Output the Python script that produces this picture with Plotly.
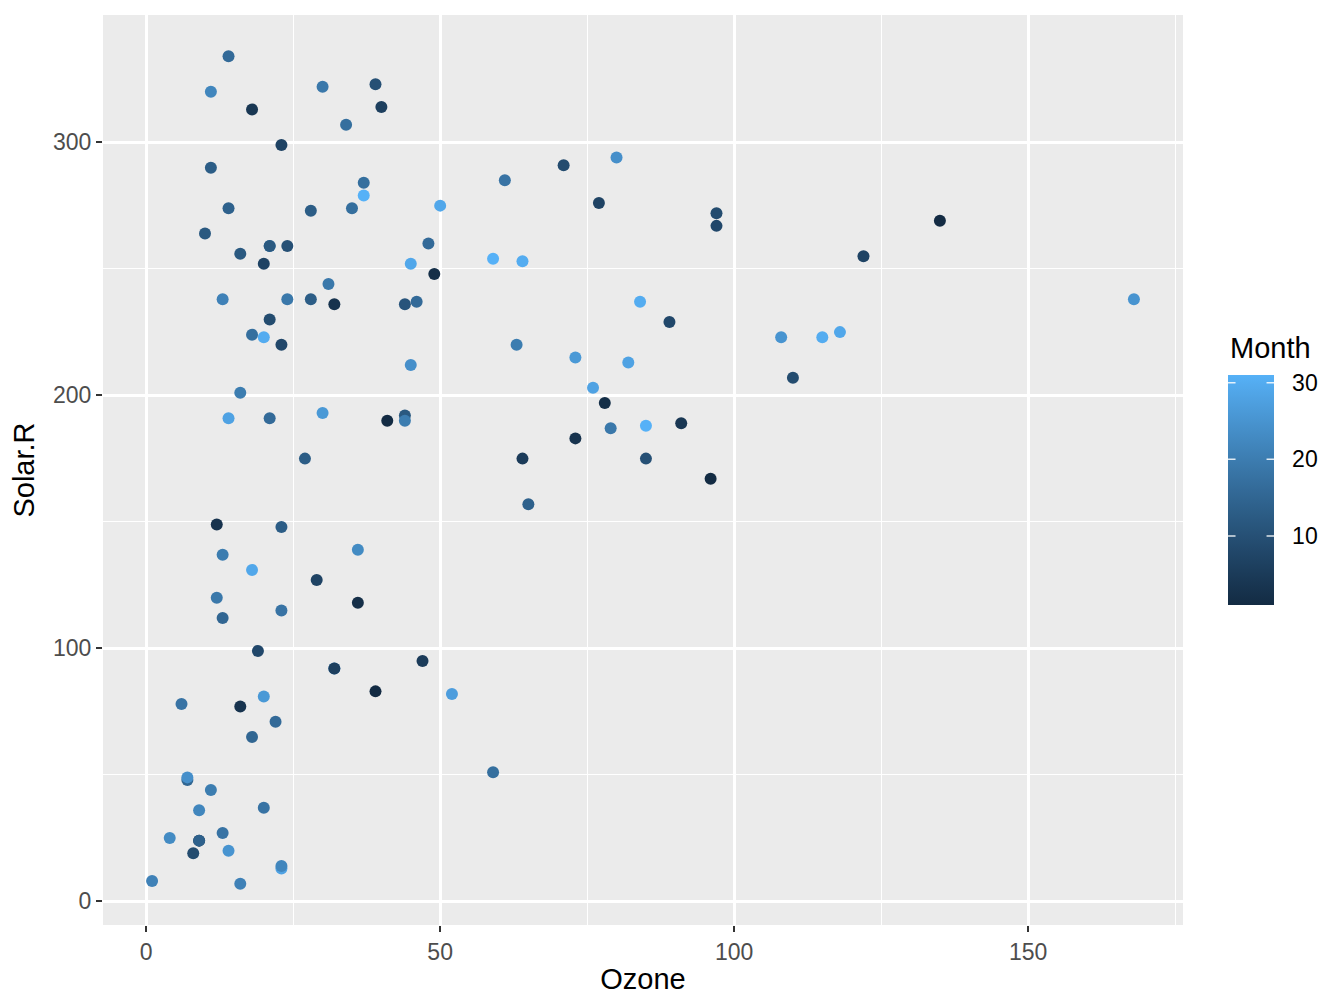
import numpy as np
import plotly.graph_objects as go

# airquality complete cases (Ozone, Solar.R, Day)
ozone = [41, 36, 12, 18, 23, 19, 8, 16, 11, 14, 18, 14, 34, 6, 30, 11, 1, 11, 4, 32, 23, 45, 115, 37,
         29, 71, 39, 23, 21, 37, 20, 12, 13,
         135, 49, 32, 64, 40, 77, 97, 97, 85, 10, 27, 7, 48, 35, 61, 79, 63, 16, 80, 108, 20, 52, 82, 50, 64, 59,
         39, 9, 16, 122, 89, 110, 44, 28, 65, 22, 59, 23, 31, 44, 21, 9, 45, 168, 73, 76, 118, 84, 85,
         96, 78, 73, 91, 47, 32, 20, 23, 21, 24, 44, 21, 28, 9, 13, 46, 18, 13, 24, 16, 13, 23, 36, 7, 14, 30, 14, 18, 20]
solar = [190, 118, 149, 313, 299, 99, 19, 256, 290, 274, 65, 334, 307, 78, 322, 44, 8, 320, 25, 92, 13, 252, 223, 279,
         127, 291, 323, 148, 191, 284, 37, 120, 137,
         269, 248, 236, 175, 314, 276, 267, 272, 175, 264, 175, 48, 260, 274, 285, 187, 220, 7, 294, 223, 81, 82, 213, 275, 253, 254,
         83, 24, 77, 255, 229, 207, 192, 273, 157, 71, 51, 115, 244, 190, 259, 36, 212, 238, 215, 203, 225, 237, 188,
         167, 197, 183, 189, 95, 92, 252, 220, 230, 259, 236, 259, 238, 24, 112, 237, 224, 27, 238, 201, 238, 14, 139, 49, 20, 193, 191, 131, 223]
day = [1, 2, 3, 4, 7, 8, 9, 12, 13, 14, 15, 16, 17, 18, 19, 20, 21, 22, 23, 24, 28, 29, 30, 31,
       7, 9, 10, 13, 16, 17, 18, 19, 20,
       1, 2, 3, 5, 6, 7, 8, 9, 10, 12, 13, 15, 16, 17, 18, 19, 20, 21, 24, 25, 26, 27, 28, 29, 30, 31,
       1, 2, 3, 7, 8, 9, 12, 13, 14, 16, 17, 18, 19, 20, 21, 22, 24, 25, 26, 28, 29, 30, 31,
       1, 2, 3, 4, 5, 6, 7, 8, 9, 10, 11, 12, 13, 14, 15, 16, 17, 18, 19, 20, 21, 22, 23, 24, 25, 26, 28, 29, 30]

color_ticks = [10, 20, 30]
x_ticks = [0, 50, 100, 150]
y_ticks = [0, 100, 200, 300]

# --- Lab-space gradient like ggplot2's scale_colour_gradient ---
def hex2rgb(h):
    h = h.lstrip('#')
    return np.array([int(h[i:i + 2], 16) for i in (0, 2, 4)]) / 255.0

M = np.array([[0.4124564, 0.3575761, 0.1804375],
              [0.2126729, 0.7151522, 0.0721750],
              [0.0193339, 0.1191920, 0.9503041]])
Minv = np.linalg.inv(M)
WP = np.array([0.95047, 1.0, 1.08883])

def rgb2lab(c):
    lin = np.where(c <= 0.04045, c / 12.92, ((c + 0.055) / 1.055) ** 2.4)
    xyz = M @ lin / WP
    f = np.where(xyz > (6 / 29) ** 3, np.cbrt(xyz), xyz / (3 * (6 / 29) ** 2) + 4 / 29)
    return np.array([116 * f[1] - 16, 500 * (f[0] - f[1]), 200 * (f[1] - f[2])])

def lab2rgb(lab):
    L, a, b = lab
    fy = (L + 16) / 116
    fx = fy + a / 500
    fz = fy - b / 200
    f = np.array([fx, fy, fz])
    xyz = np.where(f > 6 / 29, f ** 3, 3 * (6 / 29) ** 2 * (f - 4 / 29)) * WP
    lin = Minv @ xyz
    lin = np.clip(lin, 0, 1)
    c = np.where(lin <= 0.0031308, 12.92 * lin, 1.055 * lin ** (1 / 2.4) - 0.055)
    c = np.clip(c, 0, 1)
    return 'rgb(%d,%d,%d)' % tuple(np.round(c * 255).astype(int))

lo, hi = rgb2lab(hex2rgb('#132B43')), rgb2lab(hex2rgb('#56B1F7'))
cscale = [[t, lab2rgb(lo + (hi - lo) * t)] for t in np.linspace(0, 1, 11)]

FONT = "Liberation Sans, Arial, Helvetica, sans-serif"

# layout geometry (page body has an 8px margin)
W, H = 1344, 1008
ML, MR, MT, MB = 95, 169, 7, 91
PW, PH = W - ML - MR, H - MT - MB
CB_X, CB_THICK, CB_LEN, CB_Y = 1.0417, 46, 230, 0.478
cmin, cmax = min(day), max(day)

fig = go.Figure(go.Scatter(
    x=ozone, y=solar, mode='markers',
    marker=dict(size=12, color=day, colorscale=cscale, cmin=cmin, cmax=cmax,
                line=dict(width=0),
                colorbar=dict(
                    tickvals=color_ticks, ticks='outside', ticklen=14, tickwidth=1,
                    tickcolor='rgba(0,0,0,0)',
                    tickfont=dict(size=23, color='black', family=FONT),
                    thickness=CB_THICK, thicknessmode='pixels', len=CB_LEN, lenmode='pixels',
                    x=CB_X, xanchor='left', y=CB_Y, yanchor='middle',
                    xpad=0, ypad=0, outlinewidth=0)),
    showlegend=False, hoverinfo='skip'))

# white tick marks across colorbar edges (ggplot style), drawn as arrow-only annotations
bar_bottom = CB_Y - CB_LEN / PH / 2
bar_h = CB_LEN / PH
bw = CB_THICK / PW
for v in color_ticks:
    yy = bar_bottom + (v - cmin) / (cmax - cmin) * bar_h
    for xa, dx in [(CB_X, 9), (CB_X + bw, -9)]:
        fig.add_annotation(text='', xref='paper', yref='paper', x=xa, y=yy, ax=dx, ay=0,
                           showarrow=True, arrowhead=0, arrowwidth=1.5,
                           arrowcolor='rgba(255,255,255,0.85)', standoff=0, startstandoff=0)

fig.add_annotation(text='Month', xref='paper', yref='paper', x=CB_X, y=bar_bottom + bar_h + 9 / PH,
                   xanchor='left', yanchor='bottom', showarrow=False,
                   font=dict(size=29, color='black', family=FONT))

axis_common = dict(showline=False, zeroline=False, ticks='outside', ticklen=6, tickwidth=2,
                   tickcolor='#333333', gridcolor='white', gridwidth=2.5,
                   tickfont=dict(size=23, color='#4D4D4D', family=FONT))

fig.update_xaxes(range=[-7.35, 176.35], tickvals=x_ticks,
                 title=dict(text='Ozone', font=dict(size=29, color='black', family=FONT), standoff=5),
                 minor=dict(tick0=0, dtick=25, showgrid=True, gridcolor='white', gridwidth=1.1, ticks=''),
                 **axis_common)
fig.update_yaxes(range=[-9.35, 350.35], tickvals=y_ticks,
                 title=dict(text='Solar.R', font=dict(size=29, color='black', family=FONT), standoff=10),
                 minor=dict(tick0=0, dtick=50, showgrid=True, gridcolor='white', gridwidth=1.1, ticks=''),
                 **axis_common)

fig.update_layout(width=W, height=H, margin=dict(l=ML, r=MR, t=MT, b=MB, autoexpand=False),
                  plot_bgcolor='#EBEBEB', paper_bgcolor='white', font=dict(family=FONT))

fig.write_html("out.html")
